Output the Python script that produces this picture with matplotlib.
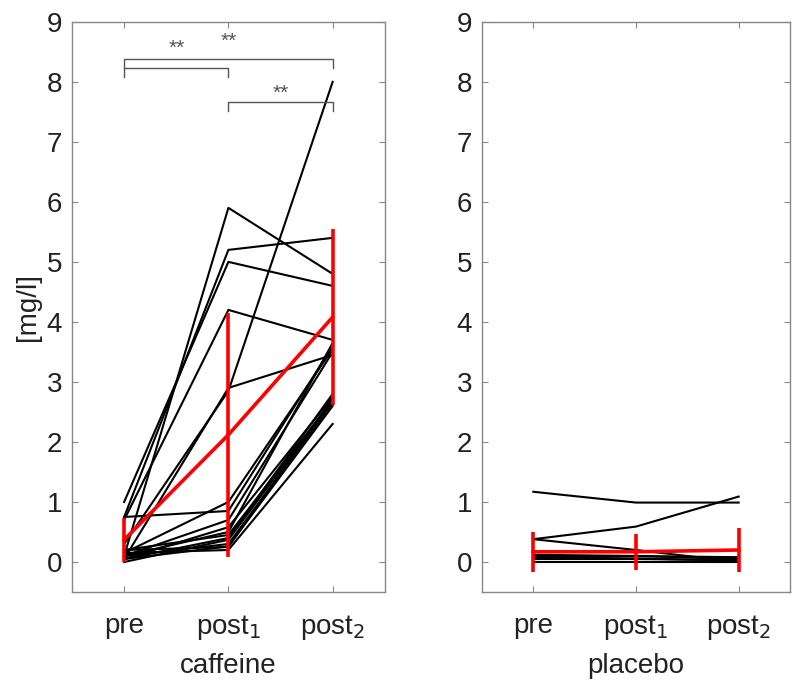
import matplotlib.pyplot as plt
import numpy as np

plt.rcParams['font.family'] = ['Liberation Sans', 'DejaVu Sans']

x = [1, 2, 3]
xlabels = ['pre', 'post$_1$', 'post$_2$']

# caffeine: one row per subject (pre, post1, post2) in mg/l
caf_pre = [0.10, 0.75, 1.00, 0.70, 0.05, 0.30, 0.75, 0.15, 0.10, 0.05, 0.20, 0.00, 0.10, 0.05, 0.15, 0.10, 0.05, 0.20]
caf_post1 = [5.90, 5.20, 5.00, 4.20, 2.90, 2.85, 0.85, 1.00, 0.70, 0.58, 0.45, 0.37, 0.30, 0.26, 0.20, 0.50, 0.40, 0.25]
caf_post2 = [4.80, 5.40, 4.60, 3.70, 3.45, 8.00, 3.60, 3.55, 3.50, 2.75, 2.70, 2.70, 2.65, 2.60, 2.30, 3.65, 2.80, 2.72]
caf_mean = [0.37, 2.12, 4.08]
caf_sd = [0.37, 2.03, 1.46]

# placebo
pla_pre = [1.17, 0.38, 0.38, 0.10, 0.05, 0.00, 0.08, 0.12]
pla_post1 = [0.99, 0.59, 0.20, 0.10, 0.05, 0.00, 0.06, 0.10]
pla_post2 = [0.99, 1.09, 0.00, 0.08, 0.03, 0.00, 0.02, 0.05]
pla_mean = [0.17, 0.17, 0.20]
pla_sd = [0.33, 0.30, 0.37]

# significance brackets: (x1, x2, bracket level, label)
sig = [(1, 3, 8.38, '**'), (1, 2, 8.23, '**'), (2, 3, 7.66, '**')]
sig_text = [(2.0, 8.68), (1.5, 8.55), (2.5, 7.80)]

fig = plt.figure(figsize=(8, 6.92), dpi=100)
ax1 = fig.add_axes([0.09, 0.1445, 0.391, 0.824])
ax2 = fig.add_axes([0.6025, 0.1445, 0.385, 0.824])

def draw_panel(ax, pre, post1, post2, mean, sd):
    for a, b, c in zip(pre, post1, post2):
        ax.plot(x, [a, b, c], color='black', lw=1.5)
    ax.errorbar(x, mean, yerr=sd, color='red', lw=2.6, elinewidth=2.6,
                capsize=0, zorder=5)
    ax.set_xlim(0.5, 3.5)
    ax.set_ylim(-0.5, 9)
    ax.set_yticks(range(10))
    ax.set_xticks(x)
    ax.set_xticklabels(xlabels)
    ax.tick_params(direction='in', top=True, right=True, labelsize=20,
                   colors='#888888', labelcolor='#222222', length=4)
    ax.tick_params(axis='x', pad=15)
    ax.tick_params(axis='y', pad=7)
    for s in ax.spines.values():
        s.set_color('#888888')
        s.set_linewidth(1)

draw_panel(ax1, caf_pre, caf_post1, caf_post2, caf_mean, caf_sd)
draw_panel(ax2, pla_pre, pla_post1, pla_post2, pla_mean, pla_sd)

ax1.set_xlabel('caffeine', fontsize=20, color='#222222', labelpad=8)
ax2.set_xlabel('placebo', fontsize=20, color='#222222', labelpad=8)
ax1.set_ylabel('[mg/l]', fontsize=20, color='#222222', labelpad=4)

for (x1, x2, lev, lab), (tx, ty) in zip(sig, sig_text):
    ax1.plot([x1, x1, x2, x2], [lev - 0.15, lev, lev, lev - 0.15],
             color='#555555', lw=1)
    ax1.text(tx, ty, lab, ha='center', va='center', fontsize=15,
             color='#555555')

fig.savefig('out.png', dpi=100)
